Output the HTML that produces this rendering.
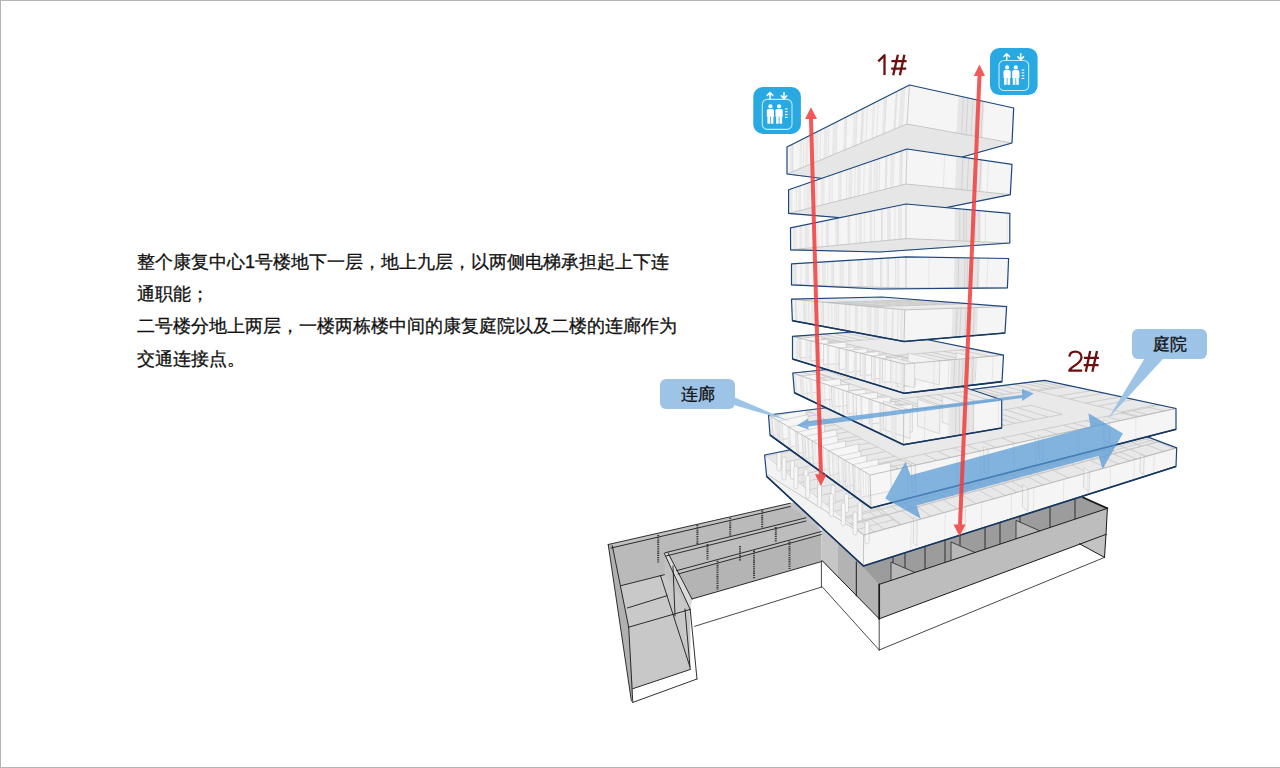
<!DOCTYPE html>
<html><head><meta charset="utf-8">
<style>
html,body{margin:0;padding:0;background:#fff;}
body{width:1280px;height:768px;position:relative;overflow:hidden;font-family:"Liberation Sans",sans-serif;}
.frame{position:absolute;left:0;top:0;width:1280px;height:768px;box-sizing:border-box;border-top:1px solid #b3b3b3;border-left:1px solid #b3b3b3;border-bottom:1px solid #b3b3b3;}
.para{position:absolute;left:137px;top:246px;font-size:18px;line-height:32.2px;color:#111;white-space:nowrap;-webkit-text-stroke:0.3px #111;}
.call{position:absolute;width:75px;height:30px;border-radius:6px;background:#9dc3e6;font-size:17px;line-height:31px;text-align:center;color:#111;-webkit-text-stroke:0.3px #111;}
.num{position:absolute;font-size:32px;color:#6b1111;line-height:1;}
svg{position:absolute;left:0;top:0;}
</style></head>
<body>
<div class="frame"></div>
<div class="para">整个康复中心1号楼地下一层，地上九层，以两侧电梯承担起上下连<br>通职能；<br>二号楼分地上两层，一楼两栋楼中间的康复庭院以及二楼的连廊作为<br>交通连接点。</div>

<svg width="1280" height="768" viewBox="0 0 1280 768">
<path d="M694.7,626.3L821.4,587.1M821.4,561.0L821.4,587.1M821.9,586.5L879.2,650.0M879.2,650.0L1104.5,557.4M879.2,618.0L879.2,650.0" stroke="#1a1a1a" stroke-width="0.8" fill="none" stroke-linecap="round"/>
<polygon points="608.2,544.5 790.4,503.2 806.0,500.0 821.4,531.5 821.4,561.6 692.0,599.0 690.2,609.4 690.2,669.5 632.8,688.7" fill="#c2c2c2"/>
<polygon points="611.0,548.0 790.4,506.5 806.0,517.8 665.0,552.8 664.4,574.7 621.2,585.6" fill="#bababa"/>
<polygon points="668.0,556.0 806.0,520.0 821.4,531.5 676.4,570.7" fill="#bdbdbd"/>
<polygon points="679.0,574.0 821.4,534.5 821.4,561.6 692.0,599.0" fill="#b4b4b4"/>
<polygon points="664.3,553.3 668.0,553.0 692.0,599.0 690.2,609.4" fill="#dadada"/>
<polygon points="621.2,585.6 664.4,574.7 690.2,609.4 628.7,627.2" fill="#c9c9c9"/>
<polygon points="628.7,627.2 690.2,609.4 690.2,669.5 632.8,688.7" fill="#c8c8c8"/>
<polygon points="608.2,544.5 612.3,545.0 628.7,627.2 632.8,688.7 631.4,701.0" fill="#b0b0b0"/>
<path d="M608.2,544.5L790.4,503.2M611.0,548.0L790.4,506.5M608.2,544.5L631.4,701.0M612.3,545.5L628.7,627.2M628.7,627.2L632.8,702.4M621.2,585.6L664.4,574.7M627.3,608.0L667.0,595.7M628.7,627.2L690.2,609.4M632.8,688.7L690.2,669.5M632.8,702.4L697.0,679.0M690.2,609.4L697.0,679.0M685.0,609.0L690.2,669.5M660.5,575.6L689.8,666.4M664.3,553.3L690.2,609.4M668.0,553.0L692.0,599.0M665.0,552.8L806.0,517.8M666.0,556.0L806.0,521.0M676.4,570.7L821.4,531.5M678.0,574.0L821.4,534.5M692.0,599.0L821.4,561.6M673.0,566.0L675.0,616.0" stroke="#1a1a1a" stroke-width="0.9" fill="none" stroke-linecap="round"/>
<path d="M658.2,535L658.2,562.5M697.4,525L697.4,544M730.2,517.8L730.2,536M762.2,510.5L762.2,527.8M707.5,544L707.5,560M775.8,527L775.8,542.4M717.5,560.7L717.5,589.8M754,550.6L754,579M789.5,541.5L789.5,569M740,546L740,561" stroke="#3a3a3a" stroke-width="2" stroke-dasharray="1.3 0.9" fill="none"/>
<polygon points="821.9,520.0 879.2,574.0 879.2,618.8 821.9,560.4" fill="#b3b3b3"/>
<polygon points="821.9,520.0 838.0,535.0 838.0,576.5 821.9,560.4" fill="#c6c6c6"/>
<path d="M821.9,560.4L879.2,618.8M856.3,562.0L856.3,596.0" stroke="#1a1a1a" stroke-width="1.0" fill="none" stroke-linecap="round"/>
<polygon points="850.0,552.0 1083.0,496.5 1107.4,508.4 879.2,584.4" fill="#9c9c9c"/>
<path d="M893,553.8045999999999L893,579.8045999999999M905,549.8086L905,575.8086M925,543.1486L925,569.1486M945,536.4886L945,562.4886M960,531.4936L960,557.4936M985,523.1686L985,549.1686M1000,518.1736L1000,544.1736M1020,511.5136L1020,537.5136M1050,501.5236L1050,527.5236M1075,493.19859999999994L1075,519.1985999999999" stroke="#2e2e2e" stroke-width="1" fill="none"/>
<polygon points="915.0,572.5 891.0,562.0 891.0,586.0 915.0,596.5" fill="#b8b8b8" stroke="#2a2a2a" stroke-width="0.8"/>
<polygon points="975.0,552.5 951.0,542.0 951.0,566.0 975.0,576.5" fill="#b8b8b8" stroke="#2a2a2a" stroke-width="0.8"/>
<polygon points="1040.0,530.9 1016.0,520.4 1016.0,544.4 1040.0,554.9" fill="#b8b8b8" stroke="#2a2a2a" stroke-width="0.8"/>
<polygon points="879.2,584.4 1107.4,508.4 1106.0,534.4 879.2,618.8" fill="#bdbdbd"/>
<polygon points="1079.5,543.8 1106.0,534.4 1104.5,557.4" fill="#c3c3c3"/>
<path d="M879.2,584.4L1107.4,508.4M879.2,618.8L1106.0,534.4M1106.0,534.4L1104.5,557.4M1079.5,543.8L1104.5,557.4M1107.4,508.4L1106.0,534.4" stroke="#1a1a1a" stroke-width="1.0" fill="none" stroke-linecap="round"/>
<path d="M1083.0,497.5L1107.4,508.4M879.2,584.4L879.2,618.8" stroke="#1a1a1a" stroke-width="1.7" fill="none" stroke-linecap="round"/>
<polygon points="764.6,455.0 1044.0,398.0 1176.7,447.9 1176.0,466.4 863.4,566.0 766.6,476.4" fill="#f4f4f4"/>
<polygon points="764.6,455.0 1044.0,398.0 1176.7,447.9 863.7,535.0" fill="#e8e8e8"/>
<path d="M863.7,535.0L1176.7,447.9M850.8,524.6L1159.4,441.4M863.7,535.0L850.8,524.6M874.6,532.0L861.5,521.7M884.1,529.3L871.0,519.2M900.2,524.8L886.8,514.9M915.4,520.6L901.8,510.9M931.2,516.2L917.3,506.7M943.7,512.7L929.7,503.3M957.4,508.9L943.2,499.7M976.0,503.7L961.6,494.7M993.9,498.8L979.2,490.0M1005.4,495.6L990.6,486.9M1017.1,492.3L1002.1,483.8M1026.5,489.7L1011.3,481.3M1043.3,485.0L1027.9,476.9M1052.3,482.5L1036.8,474.5M1068.6,478.0L1052.9,470.1M1088.0,472.6L1072.0,465.0M1106.1,467.5L1089.9,460.2M1118.9,464.0L1102.5,456.8M1136.7,459.0L1120.0,452.1M1146.7,456.2L1129.9,449.4M1164.0,451.4L1146.9,444.8M1174.6,448.5L1157.4,442.0M850.8,524.6L1159.4,441.4M843.9,519.0L1150.2,437.9M850.8,524.6L843.9,519.0M857.7,522.8L850.7,517.2M865.3,520.7L858.2,515.2M877.1,517.5L869.9,512.1M884.6,515.5L877.4,510.1M898.6,511.7L891.3,506.5M911.7,508.2L904.3,503.0M924.0,504.9L916.5,499.8M934.0,502.2L926.4,497.2M946.9,498.7L939.3,493.7M955.1,496.5L947.4,491.6M966.3,493.5L958.4,488.7M975.5,491.0L967.6,486.3M985.7,488.2L977.7,483.6M999.8,484.4L991.7,479.9M1007.8,482.3L999.6,477.8M1020.1,479.0L1011.9,474.5M1032.6,475.6L1024.3,471.2M1039.5,473.7L1031.1,469.4M1053.8,469.9L1045.4,465.7M1063.7,467.2L1055.2,463.1M1074.4,464.3L1065.7,460.3M1083.0,462.0L1074.3,458.0M1093.8,459.1L1085.0,455.2M1107.9,455.3L1099.0,451.5M1116.9,452.9L1107.9,449.1M1129.1,449.6L1120.0,445.9M1141.7,446.2L1132.6,442.6M1155.0,442.6L1145.8,439.1M863.7,535.0L764.6,455.0M901.3,524.5L798.1,448.2M863.7,535.0L901.3,524.5M857.1,529.6L894.4,519.4M849.6,523.6L886.6,513.7M842.2,517.7L878.9,508.0M834.6,511.5L871.0,502.1M825.9,504.4L861.9,495.4M816.1,496.6L851.8,487.9M808.1,490.1L843.4,481.7M799.2,483.0L834.2,474.9M791.8,476.9L826.4,469.1M784.9,471.3L819.2,463.8M775.9,464.1L809.8,456.8M766.0,456.1L799.6,449.2M1129.8,461.0L1002.1,406.6M1176.7,447.9L1044.0,398.0M1129.8,461.0L1176.7,447.9M1108.5,451.9L1154.6,439.6M1092.6,445.1L1138.1,433.4M1075.8,438.0L1120.7,426.8M1061.8,432.0L1106.0,421.3M1050.7,427.3L1094.6,417.0M1036.6,421.3L1079.9,411.5M1024.8,416.2L1067.7,406.9M1013.7,411.5L1056.1,402.5" stroke="#c3c3c3" stroke-width="0.7" fill="none"/>
<polygon points="764.6,455.0 863.7,535.0 863.4,566.0 766.6,476.4" fill="#f3f3f3" fill-opacity="0.55"/>
<polygon points="863.7,535.0 1176.7,447.9 1176.0,466.4 863.4,566.0" fill="#f5f5f5" fill-opacity="0.55"/>
<clipPath id="cl1"><polygon points="764.6,455.0 1044.0,398.0 1176.7,447.9 1176.0,466.4 863.4,566.0 766.6,476.4"/></clipPath><g clip-path="url(#cl1)">
<polygon points="1144.2,457.0 1140.6,454.1 1140.0,471.9 1143.6,474.8" fill="#f2f2f2" stroke="#c6c6c6" stroke-width="0.6"/>
<polygon points="1089.7,472.1 1084.0,467.5 1083.5,487.3 1089.1,491.9" fill="#f2f2f2" stroke="#c6c6c6" stroke-width="0.6"/>
<polygon points="1028.2,489.2 1022.7,484.8 1022.3,506.8 1027.8,511.2" fill="#f2f2f2" stroke="#c6c6c6" stroke-width="0.6"/>
<polygon points="965.4,506.7 961.0,503.2 960.6,527.4 965.0,531.0" fill="#f2f2f2" stroke="#c6c6c6" stroke-width="0.6"/>
<polygon points="917.2,520.1 913.6,517.2 913.2,543.1 916.9,546.1" fill="#f2f2f2" stroke="#c6c6c6" stroke-width="0.6"/>
<path d="M766.2,473.8L863.6,534.8" stroke="#bdbdbd" stroke-width="0.8"/>
<rect x="777.0" y="452.0" width="4" height="19" rx="2" fill="#f7f7f7" stroke="#c4c4c4" stroke-width="0.6"/>
<rect x="790.5" y="460.3" width="4" height="19" rx="2" fill="#f7f7f7" stroke="#c4c4c4" stroke-width="0.6"/>
<rect x="804.0" y="468.7" width="4" height="19" rx="2" fill="#f7f7f7" stroke="#c4c4c4" stroke-width="0.6"/>
<rect x="817.5" y="477.0" width="4" height="19" rx="2" fill="#f7f7f7" stroke="#c4c4c4" stroke-width="0.6"/>
<rect x="831.0" y="485.3" width="4" height="19" rx="2" fill="#f7f7f7" stroke="#c4c4c4" stroke-width="0.6"/>
<rect x="844.5" y="493.7" width="4" height="19" rx="2" fill="#f7f7f7" stroke="#c4c4c4" stroke-width="0.6"/>
<rect x="858.0" y="502.0" width="4" height="19" rx="2" fill="#f7f7f7" stroke="#c4c4c4" stroke-width="0.6"/>
<rect x="782.0" y="457.0" width="4" height="23" rx="2" fill="#f7f7f7" stroke="#c4c4c4" stroke-width="0.6"/>
<rect x="793.9" y="466.1" width="4" height="23" rx="2" fill="#f7f7f7" stroke="#c4c4c4" stroke-width="0.6"/>
<rect x="805.7" y="475.3" width="4" height="23" rx="2" fill="#f7f7f7" stroke="#c4c4c4" stroke-width="0.6"/>
<rect x="817.6" y="484.4" width="4" height="23" rx="2" fill="#f7f7f7" stroke="#c4c4c4" stroke-width="0.6"/>
<rect x="829.4" y="493.6" width="4" height="23" rx="2" fill="#f7f7f7" stroke="#c4c4c4" stroke-width="0.6"/>
<rect x="841.3" y="502.7" width="4" height="23" rx="2" fill="#f7f7f7" stroke="#c4c4c4" stroke-width="0.6"/>
<rect x="853.1" y="511.9" width="4" height="23" rx="2" fill="#f7f7f7" stroke="#c4c4c4" stroke-width="0.6"/>
<rect x="865.0" y="521.0" width="4" height="23" rx="2" fill="#f7f7f7" stroke="#c4c4c4" stroke-width="0.6"/>
</g>


<path d="M911.0,521.8L910.7,550.9M945.3,512.3L944.9,540.0M981.8,502.1L981.3,528.4M1011.6,493.8L1011.1,518.9M1034.0,487.6L1033.4,511.8M1063.9,479.3L1063.3,502.3M1088.0,472.6L1087.5,494.6M1110.6,466.3L1110.0,487.4M1134.5,459.7L1133.8,479.8M1154.3,454.1L1153.6,473.5" stroke="#dadada" stroke-width="0.6" fill="none" opacity="1.0"/>
<polyline points="863.7,535.0 1176.7,447.9" fill="none" stroke="#b4b4b4" stroke-width="0.8"/>
<line x1="863.7" y1="535" x2="863.4" y2="566" stroke="#b8b8b8" stroke-width="0.8"/>
<polygon points="764.6,455.0 1044.0,398.0 1176.7,447.9 1176.0,466.4 863.4,566.0 766.6,476.4" fill="none" stroke="#1b467c" stroke-width="1.2" stroke-linejoin="round"/>
<polyline points="766.6,476.4 863.4,566.0 1176.0,466.4" fill="none" stroke="#17365e" stroke-width="1.6" stroke-linejoin="round"/>
<polygon points="768.5,415.0 1044.7,380.3 1176.0,408.5 1176.0,429.3 871.0,508.0 770.0,435.0" fill="#f4f4f4"/>
<polygon points="768.5,415.0 1044.7,380.3 1176.0,408.5 870.0,475.0" fill="#e9e9e9"/>
<path d="M870.0,475.0L1176.0,408.5M857.8,467.8L1160.2,405.1M870.0,475.0L857.8,467.8M882.5,472.3L870.2,465.2M898.3,468.8L885.8,462.0M916.2,465.0L903.4,458.3M937.1,460.4L924.1,454.1M950.8,457.4L937.7,451.3M966.5,454.0L953.2,448.0M980.2,451.0L966.8,445.2M996.2,447.6L982.5,442.0M1015.6,443.4L1001.8,438.0M1037.0,438.7L1022.8,433.6M1057.5,434.2L1043.1,429.4M1078.2,429.8L1063.6,425.2M1088.0,427.6L1073.3,423.1M1100.2,425.0L1085.3,420.7M1120.9,420.5L1105.8,416.4M1137.0,417.0L1121.7,413.1M1147.9,414.6L1132.5,410.9M1164.7,411.0L1149.1,407.4M871.2,413.7L1068.3,385.4M851.4,404.6L1044.7,380.3M871.2,413.7L851.4,404.6M879.5,412.5L859.5,403.6M887.4,411.4L867.2,402.6M896.0,410.1L875.6,401.5M903.4,409.0L882.9,400.6M913.9,407.6L893.2,399.3M919.8,406.7L899.0,398.6M927.7,405.6L906.8,397.6M937.7,404.1L916.5,396.4M946.6,402.9L925.2,395.3M957.4,401.3L935.9,394.0M964.3,400.3L942.6,393.1M971.5,399.3L949.8,392.2M978.5,398.3L956.5,391.4M984.3,397.4L962.2,390.7M989.7,396.7L967.6,390.0M998.0,395.5L975.7,389.0M1004.9,394.5L982.5,388.1M1013.6,393.2L991.0,387.0M1024.9,391.6L1002.1,385.7M1036.3,390.0L1013.3,384.2M1046.4,388.5L1023.1,383.0M1053.5,387.5L1030.1,382.1M1060.9,386.4L1037.4,381.2M870.0,475.0L768.5,415.0M912.8,465.7L807.2,410.1M870.0,475.0L912.8,465.7M865.5,472.3L908.1,463.2M859.2,468.6L901.6,459.8M852.8,464.8L894.9,456.3M844.1,459.7L885.8,451.5M836.1,455.0L877.6,447.2M828.3,450.4L869.5,442.9M821.1,446.1L861.9,438.9M816.5,443.4L857.1,436.4M808.0,438.4L848.3,431.8M802.0,434.8L842.1,428.5M795.3,430.8L835.0,424.8M791.0,428.3L830.5,422.4M785.6,425.1L825.0,419.5M777.5,420.3L816.5,415.1M773.1,417.7L811.9,412.6M768.8,415.2L807.5,410.3M1139.3,416.5L1030.7,389.3M1176.0,408.5L1064.4,384.5M1139.3,416.5L1176.0,408.5M1121.2,412.0L1157.5,404.5M1098.0,406.1L1133.5,399.4M1085.8,403.1L1121.1,396.7M1069.5,399.0L1104.3,393.1M1057.9,396.1L1092.4,390.5M1037.7,391.0L1071.6,386.1M943.5,437.1L1062.3,414.3M915.5,424.8L1031.4,405.2M943.5,437.1L915.5,424.8M957.6,434.4L929.3,422.5M973.4,431.3L944.7,419.9M980.9,429.9L952.0,418.7M988.1,428.5L959.0,417.5M1004.7,425.3L975.1,414.8M1014.8,423.4L985.0,413.1M1023.8,421.7L993.8,411.6M1035.7,419.4L1005.4,409.6M1048.0,417.0L1017.4,407.6M1062.2,414.3L1031.2,405.3" stroke="#c3c3c3" stroke-width="0.7" fill="none"/>
<polygon points="768.5,415.0 870.0,475.0 871.0,508.0 770.0,435.0" fill="#f3f3f3" fill-opacity="0.55"/>
<polygon points="870.0,475.0 1176.0,408.5 1176.0,429.3 871.0,508.0" fill="#f5f5f5" fill-opacity="0.55"/>
<clipPath id="cl2"><polygon points="768.5,415.0 1044.7,380.3 1176.0,408.5 1176.0,429.3 871.0,508.0 770.0,435.0"/></clipPath><g clip-path="url(#cl2)">
<polygon points="771.7,416.9 805.9,409.5 807.3,427.8 773.1,435.3" fill="#f6f6f6" stroke="#c2c2c2" stroke-width="0.6"/>
<polygon points="778.6,421.0 807.9,414.6 809.2,433.8 779.9,440.1" fill="#f6f6f6" stroke="#c2c2c2" stroke-width="0.6"/>
<polygon points="788.8,427.0 823.9,419.4 825.1,439.7 790.0,447.3" fill="#f6f6f6" stroke="#c2c2c2" stroke-width="0.6"/>
<polygon points="797.4,432.1 819.9,427.2 821.1,448.6 798.7,453.4" fill="#f6f6f6" stroke="#c2c2c2" stroke-width="0.6"/>
<polygon points="804.8,436.4 836.5,429.6 837.7,451.7 806.0,458.6" fill="#f6f6f6" stroke="#c2c2c2" stroke-width="0.6"/>
<polygon points="812.4,441.0 837.7,435.5 838.8,458.5 813.6,464.0" fill="#f6f6f6" stroke="#c2c2c2" stroke-width="0.6"/>
<polygon points="821.1,446.1 845.4,440.8 846.5,464.9 822.2,470.1" fill="#f6f6f6" stroke="#c2c2c2" stroke-width="0.6"/>
<polygon points="828.7,450.6 858.6,444.1 859.7,469.0 829.8,475.5" fill="#f6f6f6" stroke="#c2c2c2" stroke-width="0.6"/>
<polygon points="838.2,456.2 860.9,451.3 861.9,477.3 839.2,482.2" fill="#f6f6f6" stroke="#c2c2c2" stroke-width="0.6"/>
<polygon points="844.7,460.1 866.6,455.3 867.6,482.1 845.7,486.9" fill="#f6f6f6" stroke="#c2c2c2" stroke-width="0.6"/>
<polygon points="852.5,464.7 878.2,459.1 879.2,486.8 853.5,492.3" fill="#f6f6f6" stroke="#c2c2c2" stroke-width="0.6"/>
<polygon points="859.8,469.0 890.4,462.4 891.3,490.9 860.8,497.5" fill="#f6f6f6" stroke="#c2c2c2" stroke-width="0.6"/>
<polygon points="1109.5,422.9 1103.6,419.4 1103.8,440.5 1109.7,444.0" fill="#f2f2f2" stroke="#c6c6c6" stroke-width="0.6"/>
<polygon points="1042.7,437.5 1038.7,435.1 1039.0,458.6 1043.1,461.0" fill="#f2f2f2" stroke="#c6c6c6" stroke-width="0.6"/>
<polygon points="988.0,449.4 983.5,446.7 984.1,472.2 988.5,474.8" fill="#f2f2f2" stroke="#c6c6c6" stroke-width="0.6"/>
<polygon points="915.3,465.2 911.3,462.8 912.0,490.8 916.1,493.2" fill="#f2f2f2" stroke="#c6c6c6" stroke-width="0.6"/>
</g>
<path d="M769.0,415.3L771.1,416.5L772.6,436.9L770.5,435.3ZM773.9,418.2L776.5,419.7L777.9,440.7L775.3,438.9ZM779.6,421.5L781.5,422.7L782.9,444.3L781.0,443.0ZM787.0,425.9L789.6,427.5L791.0,450.2L788.4,448.3ZM794.3,430.3L796.6,431.6L797.9,455.2L795.7,453.6ZM801.1,434.3L803.6,435.8L805.0,460.3L802.5,458.5ZM806.9,437.7L809.1,439.0L810.4,464.2L808.2,462.6ZM813.9,441.9L815.8,443.0L817.1,469.0L815.2,467.7ZM819.9,445.4L821.1,446.1L822.3,472.8L821.2,472.0ZM825.7,448.8L827.6,449.9L828.8,477.5L827.0,476.2ZM832.5,452.8L834.4,453.9L835.5,482.4L833.7,481.0ZM840.5,457.6L842.8,458.9L843.9,488.4L841.6,486.8ZM847.7,461.8L849.3,462.7L850.4,493.1L848.9,492.0ZM853.3,465.1L856.0,466.7L857.0,497.9L854.4,496.0ZM859.7,468.9L861.1,469.8L862.2,501.6L860.8,500.6ZM865.0,472.1L866.4,472.9L867.4,505.4L866.1,504.4Z" fill="#e9e9e9" opacity="1.0"/>
<path d="M771.9,417.0L773.4,437.5M777.0,420.0L778.4,441.1M782.1,423.0L783.5,444.8M789.3,427.3L790.7,450.0M795.8,431.1L797.2,454.6M802.2,434.9L803.6,459.3M808.1,438.4L809.4,463.5M811.6,440.5L812.9,466.0M818.6,444.6L819.9,471.0M823.4,447.4L824.6,474.5M828.8,450.7L830.0,478.4M832.1,452.6L833.2,480.7M836.2,455.0L837.4,483.7M842.9,459.0L844.0,488.5M846.2,461.0L847.4,490.9M849.4,462.8L850.5,493.2M853.7,465.3L854.7,496.3M858.0,467.9L859.1,499.4M863.1,470.9L864.1,503.0M868.1,473.9L869.1,506.6" stroke="#d6d6d6" stroke-width="0.6" fill="none" opacity="1.0"/>
<path d="M907.3,466.9L908.1,498.4M956.8,456.1L957.5,485.7M980.2,451.0L980.9,479.7M1013.5,443.8L1014.0,471.1M1035.6,439.0L1036.0,465.4M1078.0,429.8L1078.4,454.5M1104.9,424.0L1105.1,447.6M1135.8,417.2L1135.9,439.6" stroke="#dadada" stroke-width="0.6" fill="none" opacity="1.0"/>
<polyline points="768.5,415.0 870.0,475.0 1176.0,408.5" fill="none" stroke="#b4b4b4" stroke-width="0.8"/>
<line x1="870" y1="475" x2="871" y2="508" stroke="#b8b8b8" stroke-width="0.8"/>
<polygon points="768.5,415.0 1044.7,380.3 1176.0,408.5 1176.0,429.3 871.0,508.0 770.0,435.0" fill="none" stroke="#1b467c" stroke-width="1.2" stroke-linejoin="round"/>
<polyline points="770.0,435.0 871.0,508.0 1176.0,429.3" fill="none" stroke="#17365e" stroke-width="1.6" stroke-linejoin="round"/>
<polygon points="787.0,147.0 909.5,85.0 1013.7,108.0 1012.0,143.0 866.0,184.0 787.0,174.0" fill="#f5f5f5"/>
<path d="M789.7,145.6L793.4,143.8L793.2,171.4L789.6,172.9ZM799.7,140.6L802.1,139.4L801.7,167.9L799.5,168.8ZM805.5,137.7L808.7,136.0L808.3,165.1L805.1,166.5ZM815.0,132.8L818.5,131.0L817.9,161.1L814.5,162.6ZM824.2,128.2L827.8,126.4L826.9,157.4L823.5,158.8ZM832.8,123.8L836.4,122.0L835.4,153.8L831.9,155.3ZM844.3,118.0L847.0,116.6L845.8,149.5L843.1,150.6ZM853.7,113.2L857.0,111.6L855.6,145.4L852.3,146.8ZM861.6,109.2L864.6,107.7L863.1,142.3L860.1,143.5ZM873.0,103.5L875.3,102.3L873.5,138.0L871.2,138.9ZM883.6,98.1L887.0,96.4L884.9,133.2L881.7,134.6ZM895.5,92.1L898.0,90.8L895.8,128.7L893.3,129.7ZM902.0,88.8L905.6,87.0L903.2,125.6L899.7,127.1Z" fill="#e9e9e9" opacity="1.0"/>
<path d="M792.6,144.2L792.5,171.7M803.7,138.5L803.4,167.2M814.1,133.3L813.6,162.9M820.7,129.9L820.0,160.2M829.1,125.7L828.2,156.8M837.1,121.6L836.1,153.5M846.7,116.8L845.5,149.6M857.3,111.4L855.9,145.3M862.6,108.7L861.1,143.1M867.5,106.3L865.8,141.2M878.4,100.7L876.6,136.7M886.4,96.7L884.3,133.4M896.8,91.4L894.5,129.2M901.4,89.1L899.1,127.3" stroke="#d8d8d8" stroke-width="0.6" fill="none" opacity="1.0"/>
<polygon points="958.5,95.8 984.5,101.6 982.6,137.7 956.4,132.9" fill="#e6e6e6"/>
<path d="M963.6,96.9L961.5,133.9M968.0,97.9L966.0,134.7M973.1,99.0L971.1,135.6M976.6,99.8L974.7,136.2M982.8,101.2L980.8,137.4" stroke="#c9c9c9" stroke-width="0.7" fill="none" opacity="1.0"/>
<path d="M963.5,96.9L961.5,133.9" stroke="#dedede" stroke-width="0.6" fill="none" opacity="1.0"/>
<polygon points="787.0,174.0 907.0,124.0 1012.0,143.0 866.0,184.0" fill="#e6e6e6" stroke="#bdbdbd" stroke-width="0.8"/>
<line x1="909.5" y1="85" x2="907" y2="124" stroke="#c0c0c0" stroke-width="0.8"/>
<polygon points="787.0,147.0 909.5,85.0 1013.7,108.0 1012.0,143.0 866.0,184.0 787.0,174.0" fill="none" stroke="#1b467c" stroke-width="1.2" stroke-linejoin="round"/>
<polygon points="788.6,189.7 907.0,149.0 1012.0,164.3 1010.3,194.6 880.0,221.0 788.6,213.4" fill="#f5f5f5"/>
<path d="M789.8,189.3L792.5,188.3L792.5,212.4L789.8,213.1ZM798.3,186.4L801.0,185.4L800.9,210.3L798.2,211.0ZM806.7,183.5L809.8,182.4L809.7,208.1L806.5,208.9ZM814.7,180.7L817.8,179.7L817.5,206.2L814.4,206.9ZM821.1,178.5L823.5,177.7L823.2,204.7L820.8,205.3ZM828.7,175.9L830.7,175.2L830.3,202.9L828.4,203.4ZM838.4,172.6L840.8,171.8L840.3,200.5L838.0,201.0ZM848.7,169.0L852.6,167.7L852.0,197.5L848.2,198.5ZM857.3,166.1L861.0,164.8L860.4,195.4L856.8,196.3ZM869.1,162.0L872.3,160.9L871.6,192.6L868.4,193.4ZM875.8,159.7L878.4,158.8L877.7,191.1L875.0,191.8ZM885.4,156.4L887.8,155.6L886.9,188.8L884.6,189.4ZM892.4,154.0L894.7,153.2L893.9,187.0L891.5,187.6ZM899.6,151.6L903.0,150.4L902.1,185.0L898.6,185.8Z" fill="#e9e9e9" opacity="1.0"/>
<path d="M796.4,187.0L796.3,211.5M805.0,184.1L804.8,209.3M816.2,180.2L816.0,206.5M824.1,177.5L823.8,204.6M832.3,174.7L832.0,202.5M841.1,171.6L840.7,200.4M846.9,169.7L846.4,198.9M855.2,166.8L854.6,196.9M864.3,163.7L863.6,194.6M874.6,160.2L873.8,192.1M879.7,158.4L878.9,190.8M886.4,156.1L885.6,189.1M891.5,154.3L890.6,187.8M901.9,150.7L901.0,185.3" stroke="#d8d8d8" stroke-width="0.6" fill="none" opacity="1.0"/>
<polygon points="956.4,156.2 982.6,160.0 981.1,191.6 955.0,189.0" fill="#e6e6e6"/>
<path d="M962.9,157.2L961.6,189.6M968.6,158.0L967.2,190.2M974.5,158.8L973.1,190.8M981.1,159.8L979.6,191.5" stroke="#c9c9c9" stroke-width="0.7" fill="none" opacity="1.0"/>
<path d="M944.6,154.5L943.4,187.8M988.6,160.9L987.1,192.2" stroke="#dedede" stroke-width="0.6" fill="none" opacity="1.0"/>
<polygon points="788.6,213.4 906.0,184.0 1010.3,194.6 880.0,221.0" fill="#e6e6e6" stroke="#bdbdbd" stroke-width="0.8"/>
<line x1="907" y1="149" x2="906" y2="184" stroke="#c0c0c0" stroke-width="0.8"/>
<polygon points="788.6,189.7 907.0,149.0 1012.0,164.3 1010.3,194.6 880.0,221.0 788.6,213.4" fill="none" stroke="#1b467c" stroke-width="1.2" stroke-linejoin="round"/>
<polygon points="790.5,227.8 906.0,204.0 1009.8,213.3 1009.8,243.0 880.0,252.0 790.6,249.8" fill="#f5f5f5"/>
<path d="M792.9,227.3L795.0,226.9L795.1,249.4L793.0,249.6ZM799.4,226.0L802.3,225.4L802.4,248.7L799.4,248.9ZM805.8,224.6L809.2,223.9L809.3,248.0L805.9,248.3ZM816.8,222.4L818.5,222.0L818.6,247.1L816.9,247.2ZM825.7,220.6L828.4,220.0L828.5,246.1L825.7,246.4ZM835.3,218.6L839.0,217.8L839.1,245.1L835.3,245.5ZM847.9,216.0L850.5,215.4L850.5,244.0L848.0,244.2ZM858.5,213.8L861.9,213.1L861.9,242.9L858.6,243.2ZM870.7,211.3L872.4,210.9L872.4,241.9L870.8,242.0ZM881.0,209.1L883.1,208.7L883.1,240.8L881.0,241.0ZM887.1,207.9L890.0,207.3L890.0,240.1L887.1,240.4ZM898.1,205.6L901.8,204.9L901.8,239.0L898.1,239.4Z" fill="#e9e9e9" opacity="1.0"/>
<path d="M796.0,226.7L796.1,249.3M805.3,224.7L805.4,248.4M814.2,222.9L814.3,247.5M822.0,221.3L822.1,246.7M827.9,220.1L828.0,246.2M838.0,218.0L838.0,245.2M848.1,215.9L848.2,244.2M856.2,214.3L856.2,243.4M864.2,212.6L864.2,242.7M870.2,211.4L870.2,242.1M874.5,210.5L874.6,241.7M881.6,209.0L881.6,241.0M890.1,207.3L890.1,240.1M894.9,206.3L894.9,239.7" stroke="#d8d8d8" stroke-width="0.6" fill="none" opacity="1.0"/>
<polygon points="954.8,208.4 980.7,210.7 980.7,241.8 954.8,240.7" fill="#e6e6e6"/>
<path d="M959.7,208.8L959.7,240.9M963.6,209.2L963.6,241.0M966.3,209.4L966.3,241.2M971.7,209.9L971.7,241.4M975.2,210.2L975.2,241.5M978.9,210.5L978.9,241.7" stroke="#c9c9c9" stroke-width="0.7" fill="none" opacity="1.0"/>
<path d="M959.9,208.8L959.9,240.9M985.5,211.1L985.5,242.0M1007.1,213.1L1007.1,242.9" stroke="#dedede" stroke-width="0.6" fill="none" opacity="1.0"/>
<polygon points="790.6,249.8 906.0,238.6 1009.8,243.0 880.0,252.0" fill="#e6e6e6" stroke="#bdbdbd" stroke-width="0.8"/>
<line x1="906" y1="204" x2="906" y2="238.6" stroke="#c0c0c0" stroke-width="0.8"/>
<polygon points="790.5,227.8 906.0,204.0 1009.8,213.3 1009.8,243.0 880.0,252.0 790.6,249.8" fill="none" stroke="#1b467c" stroke-width="1.2" stroke-linejoin="round"/>
<polygon points="791.5,263.8 906.0,256.8 1008.6,258.5 1007.4,287.8 880.0,289.0 791.5,284.9" fill="#f5f5f5"/>
<path d="M792.5,263.7L796.3,263.5L796.3,285.0L792.5,284.9ZM805.0,263.0L808.6,262.8L808.6,285.4L805.0,285.3ZM816.3,262.3L819.9,262.1L819.9,285.7L816.3,285.6ZM823.1,261.9L826.0,261.7L826.0,285.8L823.1,285.8ZM830.6,261.4L833.9,261.2L833.9,286.0L830.6,286.0ZM839.5,260.9L842.4,260.7L842.4,286.3L839.5,286.2ZM848.6,260.3L851.5,260.1L851.5,286.5L848.6,286.4ZM859.4,259.6L863.2,259.4L863.2,286.8L859.4,286.7ZM868.4,259.1L871.7,258.9L871.7,287.1L868.4,287.0ZM880.0,258.4L882.5,258.2L882.5,287.4L880.0,287.3ZM886.4,258.0L889.1,257.8L889.1,287.5L886.4,287.5ZM896.6,257.4L899.4,257.2L899.4,287.8L896.6,287.7Z" fill="#e9e9e9" opacity="1.0"/>
<path d="M795.9,263.5L795.9,285.0M801.0,263.2L801.0,285.2M808.1,262.8L808.1,285.3M817.3,262.2L817.3,285.6M822.6,261.9L822.6,285.7M827.7,261.6L827.7,285.9M833.6,261.2L833.6,286.0M843.3,260.6L843.3,286.3M848.7,260.3L848.7,286.4M858.3,259.7L858.3,286.7M867.3,259.2L867.3,287.0M872.6,258.8L872.6,287.1M880.7,258.3L880.7,287.3M888.2,257.9L888.2,287.5M895.4,257.4L895.4,287.7" stroke="#d8d8d8" stroke-width="0.6" fill="none" opacity="1.0"/>
<polygon points="954.2,257.6 979.9,258.0 979.0,287.9 953.7,287.9" fill="#e6e6e6"/>
<path d="M958.7,257.7L958.1,287.9M965.1,257.8L964.4,287.9M967.8,257.8L967.0,287.9M971.5,257.9L970.8,287.9M978.2,258.0L977.4,287.9" stroke="#c9c9c9" stroke-width="0.7" fill="none" opacity="1.0"/>
<path d="M929.2,257.2L928.9,288.0M957.0,257.6L956.4,287.9M987.9,258.2L986.9,287.8" stroke="#dedede" stroke-width="0.6" fill="none" opacity="1.0"/>
<polygon points="791.5,284.9 906.0,288.0 1007.4,287.8 880.0,289.0" fill="#e6e6e6" stroke="#bdbdbd" stroke-width="0.8"/>
<line x1="906" y1="256.8" x2="906" y2="288" stroke="#c0c0c0" stroke-width="0.8"/>
<polygon points="791.5,263.8 906.0,256.8 1008.6,258.5 1007.4,287.8 880.0,289.0 791.5,284.9" fill="none" stroke="#1b467c" stroke-width="1.2" stroke-linejoin="round"/>
<polygon points="792.8,373.0 891.0,363.0 1001.7,399.8 1001.7,428.0 903.5,444.7 794.4,392.7" fill="#f4f4f4"/>
<polygon points="792.8,373.0 891.0,363.0 1001.7,399.8 903.8,410.8" fill="#ebebeb"/>
<path d="M903.8,410.8L1001.7,399.8M876.0,401.4L974.0,390.6M903.8,410.8L876.0,401.4M915.9,409.4L888.2,400.0M928.7,408.0L901.0,398.6M944.0,406.3L916.3,396.9M954.5,405.1L926.8,395.8M965.0,403.9L937.3,394.6M979.1,402.3L951.4,393.1M991.2,401.0L963.6,391.7M903.8,410.8L792.8,373.0M923.3,408.6L812.4,371.0M903.8,410.8L923.3,408.6M888.9,405.7L908.5,403.6M880.7,402.9L900.3,400.8M865.4,397.7L885.0,395.6M856.6,394.7L876.2,392.6M845.8,391.1L865.5,389.0M831.2,386.1L850.8,384.0M821.4,382.7L841.0,380.7M810.2,378.9L829.9,376.9M802.1,376.2L821.8,374.2M820.5,382.4L918.7,372.2M792.8,373.0L891.0,363.0M820.5,382.4L792.8,373.0M829.9,381.5L802.2,372.0M838.1,380.6L810.4,371.2M851.1,379.3L823.4,369.9M860.8,378.2L833.1,368.9M867.4,377.6L839.7,368.2M879.2,376.3L851.5,367.0M885.7,375.6L858.0,366.4M893.1,374.9L865.5,365.6M899.6,374.2L871.9,364.9M910.4,373.1L882.8,363.8" stroke="#c3c3c3" stroke-width="0.7" fill="none"/>
<polygon points="792.8,373.0 903.8,410.8 903.5,444.7 794.4,392.7" fill="#f3f3f3" fill-opacity="0.55"/>
<polygon points="903.8,410.8 1001.7,399.8 1001.7,428.0 903.5,444.7" fill="#f5f5f5" fill-opacity="0.55"/>
<clipPath id="cl3"><polygon points="792.8,373.0 891.0,363.0 1001.7,399.8 1001.7,428.0 903.5,444.7 794.4,392.7"/></clipPath><g clip-path="url(#cl3)">
<polygon points="801.6,376.0 818.5,374.1 819.8,391.8 802.8,393.7" fill="#f6f6f6" stroke="#c2c2c2" stroke-width="0.6"/>
<polygon points="817.2,381.3 840.4,378.7 841.5,398.1 818.2,400.7" fill="#f6f6f6" stroke="#c2c2c2" stroke-width="0.6"/>
<polygon points="831.3,386.1 848.6,384.2 849.4,405.1 832.2,407.1" fill="#f6f6f6" stroke="#c2c2c2" stroke-width="0.6"/>
<polygon points="846.7,391.4 865.8,389.2 866.4,411.8 847.3,414.0" fill="#f6f6f6" stroke="#c2c2c2" stroke-width="0.6"/>
<polygon points="856.1,394.6 877.4,392.2 877.9,415.8 856.6,418.2" fill="#f6f6f6" stroke="#c2c2c2" stroke-width="0.6"/>
<polygon points="869.1,399.0 890.4,396.6 890.7,421.6 869.3,424.0" fill="#f6f6f6" stroke="#c2c2c2" stroke-width="0.6"/>
<polygon points="880.9,403.0 895.0,401.4 895.1,427.8 881.0,429.3" fill="#f6f6f6" stroke="#c2c2c2" stroke-width="0.6"/>
<polygon points="891.5,406.6 912.4,404.3 912.3,431.8 891.4,434.1" fill="#f6f6f6" stroke="#c2c2c2" stroke-width="0.6"/>
<polygon points="964.5,404.0 942.3,396.4 942.3,422.3 964.4,429.8" fill="#f2f2f2" stroke="#c6c6c6" stroke-width="0.6"/>
<polygon points="939.8,406.8 917.7,399.2 917.6,426.3 939.6,433.8" fill="#f2f2f2" stroke="#c6c6c6" stroke-width="0.6"/>
<polygon points="910.2,410.1 883.5,401.0 883.3,429.5 910.0,438.6" fill="#f2f2f2" stroke="#c6c6c6" stroke-width="0.6"/>
</g>
<path d="M793.0,373.1L795.8,374.0L797.4,394.1L794.6,392.8ZM800.8,375.7L803.7,376.7L805.1,397.8L802.3,396.5ZM808.7,378.4L812.5,379.7L813.8,402.0L810.1,400.2ZM819.5,382.1L823.0,383.3L824.1,406.9L820.7,405.2ZM832.3,386.5L835.2,387.5L836.1,412.6L833.2,411.2ZM841.6,389.6L843.7,390.3L844.4,416.5L842.4,415.6ZM852.0,393.2L853.9,393.8L854.5,421.4L852.6,420.5ZM859.7,395.8L861.8,396.5L862.3,425.0L860.2,424.0ZM869.8,399.2L872.7,400.2L872.9,430.1L870.1,428.8ZM879.3,402.5L882.3,403.5L882.4,434.6L879.4,433.2ZM891.0,406.5L895.1,407.9L895.0,440.7L891.0,438.7Z" fill="#e9e9e9" opacity="1.0"/>
<path d="M800.0,375.5L801.5,396.1M806.2,377.6L807.6,399.0M816.7,381.1L817.9,403.9M824.2,383.7L825.3,407.4M829.0,385.3L830.0,409.7M838.4,388.5L839.2,414.1M843.0,390.1L843.8,416.2M848.6,392.0L849.3,418.9M853.3,393.6L853.9,421.0M861.8,396.5L862.2,425.0M871.8,399.9L872.1,429.7M880.2,402.8L880.3,433.7M885.9,404.7L886.0,436.3M895.9,408.1L895.8,441.0" stroke="#d6d6d6" stroke-width="0.6" fill="none" opacity="1.0"/>
<polygon points="949.8,405.6 974.3,402.9 974.2,432.7 949.7,436.9" fill="#e6e6e6"/>
<path d="M955.9,404.9L955.8,435.8M959.6,404.5L959.5,435.2M963.9,404.0L963.8,434.4M966.9,403.7L966.8,433.9M973.4,403.0L973.4,432.8" stroke="#c9c9c9" stroke-width="0.7" fill="none" opacity="1.0"/>
<path d="M924.8,408.4L924.6,441.1M948.9,405.7L948.8,437.0M968.6,403.5L968.5,433.6M998.4,400.2L998.4,428.6" stroke="#dadada" stroke-width="0.6" fill="none" opacity="1.0"/>
<polyline points="792.8,373.0 903.8,410.8 1001.7,399.8" fill="none" stroke="#b4b4b4" stroke-width="0.8"/>
<line x1="903.75" y1="410.8" x2="903.5" y2="444.7" stroke="#b8b8b8" stroke-width="0.8"/>
<polygon points="792.8,373.0 891.0,363.0 1001.7,399.8 1001.7,428.0 903.5,444.7 794.4,392.7" fill="none" stroke="#1b467c" stroke-width="1.2" stroke-linejoin="round"/>
<polyline points="794.4,392.7 903.5,444.7 1001.7,428.0" fill="none" stroke="#17365e" stroke-width="1.6" stroke-linejoin="round"/>
<polygon points="792.5,336.4 880.0,330.0 1003.5,355.2 1002.0,381.6 904.0,393.3 792.5,359.0" fill="#f4f4f4"/>
<polygon points="792.5,336.4 880.0,330.0 1003.5,355.2 904.2,364.0" fill="#ebebeb"/>
<path d="M904.2,364.0L1003.5,355.2M876.3,357.1L972.6,348.9M904.2,364.0L876.3,357.1M914.1,363.1L885.8,356.3M926.5,362.0L897.9,355.3M935.6,361.2L906.7,354.5M951.2,359.8L921.8,353.2M960.9,359.0L931.3,352.4M973.8,357.8L943.8,351.3M990.5,356.4L960.0,350.0M1001.9,355.3L971.0,349.0M904.2,364.0L792.5,336.4M924.1,362.2L810.0,335.1M904.2,364.0L924.1,362.2M888.8,360.2L908.3,358.5M881.6,358.4L900.9,356.7M868.4,355.1L887.5,353.5M857.4,352.4L876.2,350.9M842.2,348.7L860.8,347.2M831.9,346.1L850.2,344.7M817.0,342.4L835.0,341.1M808.9,340.4L826.7,339.1M793.3,336.6L810.8,335.3M820.4,343.3L910.9,336.3M792.5,336.4L880.0,330.0M820.4,343.3L792.5,336.4M830.3,342.5L802.1,335.7M842.2,341.6L813.6,334.9M850.9,340.9L822.0,334.2M861.5,340.1L832.2,333.5M873.7,339.2L844.0,332.6M882.9,338.5L852.9,332.0M893.6,337.6L863.3,331.2M904.3,336.8L873.7,330.5" stroke="#c3c3c3" stroke-width="0.7" fill="none"/>
<polygon points="792.5,336.4 904.2,364.0 904.0,393.3 792.5,359.0" fill="#f3f3f3" fill-opacity="0.55"/>
<polygon points="904.2,364.0 1003.5,355.2 1002.0,381.6 904.0,393.3" fill="#f5f5f5" fill-opacity="0.55"/>
<clipPath id="cl4"><polygon points="792.5,336.4 880.0,330.0 1003.5,355.2 1002.0,381.6 904.0,393.3 792.5,359.0"/></clipPath><g clip-path="url(#cl4)">
<polygon points="799.9,338.2 821.8,336.3 821.8,355.9 799.9,357.8" fill="#f6f6f6" stroke="#c2c2c2" stroke-width="0.6"/>
<polygon points="810.1,340.8 828.2,339.2 828.2,359.3 810.1,360.9" fill="#f6f6f6" stroke="#c2c2c2" stroke-width="0.6"/>
<polygon points="823.6,344.1 846.2,342.1 846.1,362.9 823.6,364.9" fill="#f6f6f6" stroke="#c2c2c2" stroke-width="0.6"/>
<polygon points="839.3,348.0 854.3,346.7 854.2,368.3 839.3,369.6" fill="#f6f6f6" stroke="#c2c2c2" stroke-width="0.6"/>
<polygon points="848.3,350.2 867.1,348.5 867.0,370.6 848.3,372.3" fill="#f6f6f6" stroke="#c2c2c2" stroke-width="0.6"/>
<polygon points="860.4,353.2 878.9,351.5 878.8,374.2 860.3,375.8" fill="#f6f6f6" stroke="#c2c2c2" stroke-width="0.6"/>
<polygon points="871.7,356.0 886.3,354.7 886.2,377.9 871.6,379.2" fill="#f6f6f6" stroke="#c2c2c2" stroke-width="0.6"/>
<polygon points="882.5,358.6 901.9,356.9 901.8,380.7 882.4,382.4" fill="#f6f6f6" stroke="#c2c2c2" stroke-width="0.6"/>
<polygon points="897.7,362.4 915.4,360.8 915.2,385.4 897.6,387.0" fill="#f6f6f6" stroke="#c2c2c2" stroke-width="0.6"/>
<polygon points="976.2,357.6 956.2,352.7 955.2,375.8 975.3,380.7" fill="#f2f2f2" stroke="#c6c6c6" stroke-width="0.6"/>
<polygon points="939.8,360.8 908.2,353.0 907.6,377.0 939.3,384.9" fill="#f2f2f2" stroke="#c6c6c6" stroke-width="0.6"/>
<polygon points="914.6,363.1 890.8,357.2 890.5,381.8 914.4,387.7" fill="#f2f2f2" stroke="#c6c6c6" stroke-width="0.6"/>
</g>
<path d="M795.9,337.2L799.0,338.0L799.0,361.0L795.9,360.0ZM805.5,339.6L808.5,340.3L808.4,363.9L805.4,363.0ZM816.8,342.4L821.0,343.4L820.9,367.7L816.7,366.5ZM827.1,344.9L829.4,345.5L829.3,370.3L827.0,369.6ZM835.2,347.0L837.1,347.4L837.1,372.7L835.2,372.1ZM844.7,349.3L848.9,350.3L848.8,376.3L844.6,375.0ZM853.6,351.5L857.2,352.4L857.1,378.9L853.5,377.8ZM862.1,353.6L866.1,354.6L865.9,381.6L861.9,380.4ZM873.1,356.3L875.8,357.0L875.6,384.6L872.9,383.7ZM879.4,357.9L881.6,358.4L881.4,386.3L879.3,385.7ZM890.7,360.7L892.9,361.2L892.7,389.8L890.5,389.2ZM900.3,363.0L903.1,363.7L902.9,393.0L900.1,392.1Z" fill="#e9e9e9" opacity="1.0"/>
<path d="M801.0,338.5L801.0,361.6M811.4,341.1L811.4,364.8M818.8,342.9L818.7,367.1M827.9,345.2L827.9,369.9M838.7,347.8L838.6,373.2M846.5,349.7L846.4,375.6M855.8,352.0L855.7,378.4M865.1,354.3L864.9,381.3M875.2,356.8L875.1,384.4M879.7,357.9L879.5,385.8M885.1,359.3L884.9,387.4M896.2,362.0L896.0,390.8" stroke="#d6d6d6" stroke-width="0.6" fill="none" opacity="1.0"/>
<polygon points="950.9,359.9 975.7,357.7 974.6,384.9 950.1,387.8" fill="#e6e6e6"/>
<path d="M954.6,359.5L953.8,387.4M959.5,359.1L958.6,386.8M963.1,358.8L962.1,386.4M968.9,358.3L967.9,385.7M973.3,357.9L972.2,385.2" stroke="#c9c9c9" stroke-width="0.7" fill="none" opacity="1.0"/>
<path d="M934.3,361.3L933.7,389.8M948.9,360.0L948.1,388.0M971.9,358.0L970.8,385.3M993.4,356.1L992.0,382.8" stroke="#dadada" stroke-width="0.6" fill="none" opacity="1.0"/>
<polyline points="792.5,336.4 904.2,364.0 1003.5,355.2" fill="none" stroke="#b4b4b4" stroke-width="0.8"/>
<line x1="904.2" y1="364" x2="904" y2="393.3" stroke="#b8b8b8" stroke-width="0.8"/>
<polygon points="792.5,336.4 880.0,330.0 1003.5,355.2 1002.0,381.6 904.0,393.3 792.5,359.0" fill="none" stroke="#1b467c" stroke-width="1.2" stroke-linejoin="round"/>
<polyline points="792.5,359.0 904.0,393.3 1002.0,381.6" fill="none" stroke="#17365e" stroke-width="1.6" stroke-linejoin="round"/>
<polygon points="791.5,299.2 882.0,297.0 1006.6,306.6 1005.0,333.0 904.0,341.5 792.4,320.7" fill="#f4f4f4"/>
<polygon points="791.5,299.2 882.0,297.0 1006.6,306.6 904.8,309.8" fill="#ebebeb"/>
<path d="M870.8,306.6L969.2,303.7M825.5,302.4L919.4,299.9M870.8,306.6L825.5,302.4M878.2,306.4L832.6,302.2M884.7,306.2L838.7,302.0M890.7,306.0L844.4,301.9M901.6,305.7L854.9,301.6M910.3,305.5L863.2,301.4M919.8,305.2L872.2,301.1M928.3,304.9L880.3,300.9M935.7,304.7L887.4,300.7M945.5,304.4L896.7,300.5M954.2,304.2L905.0,300.3M964.2,303.9L914.6,300.0" stroke="#c3c3c3" stroke-width="0.7" fill="none"/>
<polygon points="791.5,299.2 904.8,309.8 904.0,341.5 792.4,320.7" fill="#f3f3f3" fill-opacity="0.55"/>
<polygon points="904.8,309.8 1006.6,306.6 1005.0,333.0 904.0,341.5" fill="#f5f5f5" fill-opacity="0.55"/>
<path d="M794.3,299.5L796.8,299.7L797.6,321.7L795.2,321.2ZM803.2,300.3L806.7,300.6L807.4,323.5L804.0,322.9ZM811.1,301.0L813.9,301.3L814.4,324.8L811.7,324.3ZM820.3,301.9L824.0,302.2L824.4,326.7L820.8,326.0ZM827.3,302.5L829.0,302.7L829.4,327.6L827.7,327.3ZM834.0,303.2L837.4,303.5L837.6,329.1L834.2,328.5ZM845.3,304.2L847.2,304.4L847.2,330.9L845.4,330.6ZM855.5,305.2L858.3,305.4L858.2,333.0L855.5,332.5ZM866.9,306.3L870.5,306.6L870.2,335.2L866.7,334.5ZM874.2,306.9L877.9,307.3L877.5,336.6L873.9,335.9ZM883.8,307.8L885.7,308.0L885.2,338.0L883.3,337.6ZM891.5,308.6L893.2,308.7L892.6,339.4L890.9,339.1ZM900.6,309.4L903.4,309.7L902.6,341.2L899.9,340.7Z" fill="#e9e9e9" opacity="1.0"/>
<path d="M795.5,299.6L796.4,321.4M803.7,300.3L804.4,322.9M808.4,300.8L809.0,323.8M815.0,301.4L815.6,325.0M823.1,302.2L823.5,326.5M831.8,303.0L832.1,328.1M838.5,303.6L838.6,329.3M845.4,304.2L845.5,330.6M849.3,304.6L849.3,331.3M855.8,305.2L855.7,332.5M861.9,305.8L861.7,333.6M871.0,306.6L870.7,335.3M878.2,307.3L877.8,336.6M886.8,308.1L886.2,338.2M893.3,308.7L892.7,339.4M898.2,309.2L897.5,340.3" stroke="#d6d6d6" stroke-width="0.6" fill="none" opacity="1.0"/>
<polygon points="952.6,308.3 978.1,307.5 976.7,335.4 951.5,337.5" fill="#e6e6e6"/>
<path d="M957.3,308.1L956.1,337.1M961.0,308.0L959.7,336.8M966.2,307.9L964.9,336.4M969.8,307.8L968.5,336.1M974.3,307.6L973.0,335.7" stroke="#c9c9c9" stroke-width="0.7" fill="none" opacity="1.0"/>
<path d="M956.1,308.2L954.9,337.2" stroke="#dadada" stroke-width="0.6" fill="none" opacity="1.0"/>
<polyline points="791.5,299.2 904.8,309.8 1006.6,306.6" fill="none" stroke="#b4b4b4" stroke-width="0.8"/>
<line x1="904.8" y1="309.8" x2="904" y2="341.5" stroke="#b8b8b8" stroke-width="0.8"/>
<polygon points="791.5,299.2 882.0,297.0 1006.6,306.6 1005.0,333.0 904.0,341.5 792.4,320.7" fill="none" stroke="#1b467c" stroke-width="1.2" stroke-linejoin="round"/>
<polyline points="792.4,320.7 904.0,341.5 1005.0,333.0" fill="none" stroke="#17365e" stroke-width="1.6" stroke-linejoin="round"/>

<!-- ============ ARROWS ============ -->
<g fill="#5b9bd5" fill-opacity="0.75">
  <polygon points="885.2,498.5 905.5,462 910.6,475.2 1090.4,426.4 1088.4,413.2 1122.9,433.5 1102.6,469 1098.5,455.9 916.7,505.6 920.8,518.8"/>
  <polygon points="796.8,425.5 808,418.5 808.2,421.3 1022,395 1022,389 1033.8,393.6 1022,401 1022,398 808.4,426.4 808.5,429.5"/>
</g>
<g fill="#f03e3e" fill-opacity="0.86">
  <polygon points="811,107.2 817,118.9 813,118.9 822.9,474.2 826.6,474.2 820.9,486 815,474.2 818.9,474.2 809,118.9 805,118.9"/>
  <polygon points="979.5,64.4 985,76 981.5,76 962,524.5 965.5,524.5 959.6,536.4 953.5,524.5 958,524.5 977.5,76 973.8,76"/>
</g>

<polygon points="734.7,397.4 790.2,421.25 734.7,405.2" fill="#9dc3e6"/>
<polygon points="1144.3,359 1108.4,418.3 1162.9,359" fill="#9dc3e6"/>

<g id="elev">
  <rect x="753.3" y="86.9" width="47.6" height="47" rx="9.5" fill="#29a9e1"/>
  <rect x="762.3" y="99.4" width="29.7" height="30" rx="5" fill="none" stroke="#c6e9f8" stroke-width="1.1"/>
  <g fill="#fff" stroke="none">
    <circle cx="770.4" cy="106.3" r="2.1"/>
    <circle cx="779.1" cy="106.3" r="2.1"/>
    <path d="M766.8,110.6 Q766.8,108.9 768.5,108.9 H772.3 Q774,108.9 774,110.6 V116.8 H766.8 Z"/>
    <rect x="767.4" y="116.4" width="2.6" height="7.3"/><rect x="770.8" y="116.4" width="2.6" height="7.3"/>
    <path d="M775.5,110.6 Q775.5,108.9 777.2,108.9 H781 Q782.7,108.9 782.7,110.6 V116.8 H775.5 Z"/>
    <rect x="776.1" y="116.4" width="2.6" height="7.3"/><rect x="779.5" y="116.4" width="2.6" height="7.3"/>
    <rect x="785" y="108.4" width="2.6" height="1.1"/><rect x="785" y="111.2" width="2.6" height="1.1"/>
    <rect x="785" y="114" width="2.6" height="1.1"/><rect x="785" y="116.8" width="2.6" height="1.1"/>
  </g>
  <g stroke="#fff" stroke-width="1.5" fill="none" stroke-linecap="round" stroke-linejoin="round">
    <path d="M770,98.6 V92.8 M767.2,95.4 L770,92.6 L772.8,95.4"/>
    <path d="M784,92.6 V98.4 M781.2,95.8 L784,98.6 L786.8,95.8"/>
  </g>
</g>
<use href="#elev" transform="translate(236.7,-38.9)"/>
<g fill="none" stroke="#6a1010" stroke-width="2.3" stroke-linecap="butt" stroke-linejoin="round">
  <path d="M884.5,74.9 V55.2 L878.3,61.4"/>
  <path d="M897.9,54.7 L893.2,75.3 M904.4,54.7 L899.9,75.3 M891.4,61.2 H906.6 M891.2,68.6 H906.2"/>
  <path d="M1069.4,356.6 C1069.6,353.3 1072,351.6 1075.3,351.6 C1078.9,351.6 1081.5,353.8 1081.5,357.3 C1081.5,360.6 1079.2,362.5 1076.2,364.6 C1072.3,367.3 1069.6,368.9 1069.3,370.6 H1082.2"/>
  <path d="M1090.2,351 L1085.8,371.8 M1097,351 L1092.4,371.8 M1083.9,357.8 H1098.9 M1083.7,365.1 H1098.6"/>
</g>
</svg>

<div class="call" style="left:660px;top:379px;">连廊</div>
<div class="call" style="left:1132px;top:329px;">庭院</div>
</body></html>
